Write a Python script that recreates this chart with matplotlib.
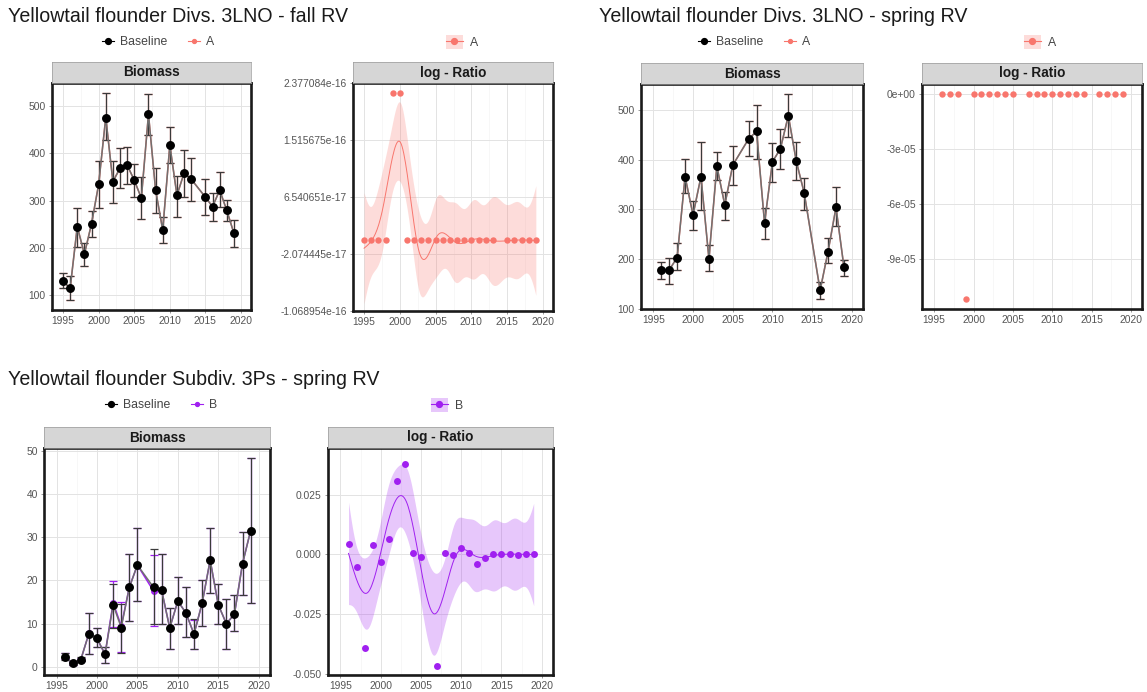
import numpy as np
import matplotlib
matplotlib.use("Agg")
import matplotlib.pyplot as plt
from matplotlib.patches import Patch
from matplotlib.lines import Line2D

plt.rcParams['font.family'] = ['Liberation Sans', 'DejaVu Sans']

# ---------------- data ----------------
fall_years = [1995, 1996, 1997, 1998, 1999, 2000, 2001, 2002, 2003, 2004, 2005, 2006,
              2007, 2008, 2009, 2010, 2011, 2012, 2013, 2015, 2016, 2017, 2018, 2019]
fall_base = [130, 115, 245, 187, 251, 334, 475, 340, 368, 375, 343, 305,
             482, 322, 238, 417, 311, 358, 345, 307, 287, 322, 279, 231]
fall_lo = [115, 91, 203, 161, 224, 285, 428, 294, 326, 335, 308, 261,
           438, 273, 210, 379, 266, 307, 300, 270, 256, 287, 256, 203]
fall_hi = [147, 140, 285, 210, 277, 384, 526, 384, 410, 412, 376, 350,
           524, 368, 266, 454, 352, 407, 389, 345, 315, 361, 301, 259]
fall_A = [130, 115, 245, 187, 251, 334, 475, 340, 368, 375, 343, 305,
          482, 322, 238, 417, 311, 358, 345, 307, 287, 322, 279, 231]
fall_lr = [0, 0, 0, 0, 2.220446e-16, 2.220446e-16, 0, 0, 0, 0, 0, 0,
           0, 0, 0, 0, 0, 0, 0, 0, 0, 0, 0, 0]
fall_lr_ticks = [2.377084e-16, 1.515675e-16, 6.540651e-17, -2.074445e-17, -1.068954e-16]
fall_lr_labels = ["2.377084e-16", "1.515675e-16", "6.540651e-17", "-2.074445e-17", "-1.068954e-16"]

spring_years = [1996, 1997, 1998, 1999, 2000, 2001, 2002, 2003, 2004, 2005,
                2007, 2008, 2009, 2010, 2011, 2012, 2013, 2014,
                2016, 2017, 2018, 2019]
spring_base = [178, 178, 203, 366, 289, 366, 201, 387, 309, 389,
               442, 457, 273, 396, 422, 489, 397, 333,
               137, 215, 304, 184]
spring_lo = [160, 149, 178, 333, 259, 299, 175, 359, 279, 349,
             407, 402, 241, 356, 382, 446, 359, 299,
             120, 193, 266, 165]
spring_hi = [194, 203, 232, 402, 316, 435, 228, 416, 336, 427,
             479, 511, 303, 434, 462, 532, 436, 364,
             153, 242, 345, 199]
spring_A = [178, 178, 203, 366, 289, 366, 201, 387, 309, 389,
            442, 457, 273, 396, 422, 489, 397, 333,
            137, 215, 304, 184]
spring_lr = [0, 0, 0, -1.12e-4, 0, 0, 0, 0, 0, 0,
             0, 0, 0, 0, 0, 0, 0, 0,
             0, 0, 0, 0]
spring_lr_ticks = [0, -3e-5, -6e-5, -9e-5]
spring_lr_labels = ["0e+00", "-3e-05", "-6e-05", "-9e-05"]

ps_years = [1996, 1997, 1998, 1999, 2000, 2001, 2002, 2003, 2004, 2005,
            2007, 2008, 2009, 2010, 2011, 2012, 2013, 2014, 2015, 2016, 2017, 2018, 2019]
ps_base = [2.3, 0.8, 1.7, 7.7, 6.6, 2.9, 14.4, 9.1, 18.4, 23.6,
           18.4, 17.7, 9.0, 15.2, 12.5, 7.6, 14.7, 24.7, 14.4, 10.0, 12.2, 23.9, 31.5]
ps_lo = [1.7, 0.5, 1.3, 2.9, 4.5, 0.8, 8.9, 3.2, 10.6, 15.3,
         10.0, 9.9, 4.1, 10.0, 6.8, 4.1, 9.5, 17.2, 9.9, 4.1, 8.2, 16.6, 14.7]
ps_hi = [3.2, 1.1, 2.2, 12.4, 9.0, 4.6, 19.2, 14.5, 26.1, 32.1,
         27.2, 26.1, 13.7, 20.7, 18.4, 11.0, 20.1, 32.1, 19.1, 15.7, 16.6, 31.3, 48.3]
ps_B = [2.31, 0.80, 1.63, 7.73, 6.58, 2.92, 14.85, 9.45, 18.41, 23.57,
        17.56, 17.71, 9.0, 15.24, 12.51, 7.57, 14.68, 24.71, 14.40, 10.0, 12.2, 23.9, 31.5]
ps_lr = [0.0045, -0.0054, -0.0394, 0.0041, -0.0031, 0.0066, 0.0306, 0.0379, 0.0006, -0.0011,
         -0.0469, 0.0004, -0.0001, 0.0027, 0.0007, -0.0039, -0.0015, 0.0003, 0.0003, 0.0003,
         -0.0004, 0.0, 0.0]
ps_lr_ticks = [0.025, 0.0, -0.025, -0.05]
ps_lr_labels = ["0.025", "0.000", "-0.025", "-0.050"]

year_ticks = [1995, 2000, 2005, 2010, 2015, 2020]

# ---------------- styles ----------------
W, H = 1147, 692
RED = "#F8766D"
PURPLE = "#A020F0"
TICKC = "#555555"
XLIM = (1993.45, 2021.4)

fig = plt.figure(figsize=(W / 100, H / 100), dpi=100)


def rect(l, t, r, b):
    return [l / W, 1 - b / H, (r - l) / W, (b - t) / H]


def make_panel(l, t, r, b, label):
    ax = fig.add_axes(rect(l, t, r, b))
    ax.set_facecolor("white")
    for s in ax.spines.values():
        s.set_linewidth(1.9)
        s.set_color("#1a1a1a")
    ax.grid(True, which="major", color="#E3E3E3", lw=0.7)
    ax.grid(True, which="minor", color="#F2F2F2", lw=0.4)
    ax.set_axisbelow(True)
    ax.tick_params(axis="both", labelsize=7.4, colors="#888888", labelcolor=TICKC,
                   length=2.5, width=0.6, pad=2)
    ax.set_xlim(*XLIM)
    ax.set_xticks(year_ticks)
    ax.set_xticks([1997.5, 2002.5, 2007.5, 2012.5, 2017.5], minor=True)
    ax.tick_params(which="minor", length=0)
    st = fig.add_axes(rect(l, t - 21, r, t))
    st.set_facecolor("#D6D6D6")
    st.set_xticks([])
    st.set_yticks([])
    for s in st.spines.values():
        s.set_linewidth(0.5)
        s.set_color("#9a9a9a")
    st.text(0.5, 0.5, label, ha="center", va="center", fontsize=9.8,
            fontweight="bold", color="#1a1a1a", transform=st.transAxes)
    return ax


def gg_expand(lo, hi, frac=0.05):
    d = (hi - lo) * frac
    return lo - d, hi + d


def ns_design(x, knots):
    K = len(knots)

    def p3(v):
        return np.where(v > 0, v, 0.0) ** 3

    def d(k):
        return (p3(x - knots[k]) - p3(x - knots[-1])) / (knots[-1] - knots[k])

    cols = [np.ones_like(x), x]
    for k in range(K - 2):
        cols.append(d(k) - d(K - 2))
    return np.column_stack(cols)


def gam_smooth(xs, ys, k=10, lam_mult=1.0, grid_n=200):
    x = (np.asarray(xs, float) - 2007.0) / 10.0
    y = np.asarray(ys, float)
    scale = np.std(y) if np.std(y) > 0 else 1.0
    yc = y / scale
    knots = np.quantile(np.unique(x), np.linspace(0, 1, k))
    X = ns_design(x, knots)
    g = np.linspace(x.min(), x.max(), 2000)
    G = ns_design(g, knots)
    h = g[1] - g[0]
    D2 = (G[2:] - 2 * G[1:-1] + G[:-2]) / h ** 2
    S = D2.T @ D2 * h
    n = len(x)

    def fit_lam(lam):
        M = X.T @ X + lam * S
        Minv = np.linalg.pinv(M)
        A = X @ Minv @ X.T
        edf = np.trace(A)
        rss = np.sum((yc - A @ yc) ** 2)
        return Minv, edf, rss

    best = None
    for lam in np.logspace(-8, 3, 120):
        Minv, edf, rss = fit_lam(lam)
        gcv = n * rss / (n - edf) ** 2
        if best is None or gcv < best[0]:
            best = (gcv, lam)
    lam = best[1] * lam_mult
    Minv, edf, rss = fit_lam(lam)
    beta = Minv @ X.T @ yc
    sig2 = rss / (n - edf)
    xp = np.linspace(x.min(), x.max(), grid_n)
    Xp = ns_design(xp, knots)
    fp = Xp @ beta
    se = np.sqrt(np.einsum("ij,jk,ik->i", Xp, Minv * sig2, Xp))
    q = 2.06
    return xp * 10 + 2007.0, fp * scale, (fp - q * se) * scale, (fp + q * se) * scale


def biomass_panel(ax, yrs, base, lo, hi, alt, alt_lo, alt_hi, altcol):
    yrs = np.asarray(yrs)
    base = np.asarray(base, float)
    lo = np.asarray(lo, float)
    hi = np.asarray(hi, float)
    alt = np.asarray(alt, float)
    # alternative series drawn first
    ax.errorbar(yrs, alt, yerr=[alt - alt_lo, alt_hi - alt], fmt="none",
                ecolor=altcol, elinewidth=0.9, capsize=2.8, capthick=0.9, zorder=2)
    ax.plot(yrs, alt, color=altcol, lw=1.1, zorder=2)
    ax.plot(yrs, alt, "o", color=altcol, ms=4.0, zorder=2)
    # baseline
    ax.errorbar(yrs, base, yerr=[base - lo, hi - base], fmt="none",
                ecolor="#3a3a3a", elinewidth=0.9, capsize=2.8, capthick=0.9, zorder=3)
    ax.plot(yrs, base, color="#707070", lw=1.1, zorder=3)
    ax.plot(yrs, base, "o", color="black", ms=5.4, zorder=4)
    ax.set_ylim(*gg_expand(min(lo.min(), np.min(alt_lo)), max(hi.max(), np.max(alt_hi))))


def ratio_panel(ax, yrs, lr, col, smooth=True, lam_mult=1.0, ylim=None, ticks=None,
                labels=None, ms=4.6):
    if smooth:
        xs, f, l, u = gam_smooth(yrs, lr, lam_mult=lam_mult)
        ax.fill_between(xs, l, u, color=col, alpha=0.25, lw=0, zorder=2)
        ax.plot(xs, f, color=col, lw=0.7, zorder=3)
    ax.plot(yrs, lr, "o", color=col, ms=ms, zorder=4, mec="none")
    if ylim is not None:
        ax.set_ylim(*ylim)
    else:
        ax.set_ylim(*gg_expand(min(lr), max(lr)))
    ax.set_yticks(ticks)
    ax.set_yticklabels(labels)


def legends(cx_bio, cx_rat, y, altlab, altcol):
    yy = 1 - y / H
    h1 = [Line2D([], [], color="black", marker="o", ms=4.2, lw=0.8),
          Line2D([], [], color=altcol, marker="o", ms=2.8, lw=0.8)]
    fig.legend(h1, ["Baseline", altlab], loc="center", bbox_to_anchor=(cx_bio / W, yy),
               ncol=2, frameon=False, fontsize=8.8, handlelength=1.0, handletextpad=0.5,
               columnspacing=1.7, borderpad=0, labelcolor="#444444")
    h2 = [(Patch(facecolor=altcol, alpha=0.25, edgecolor="none"),
           Line2D([], [], color=altcol, marker="o", ms=4.2, lw=0.8))]
    fig.legend(h2, [altlab], loc="center", bbox_to_anchor=(cx_rat / W, yy),
               ncol=1, frameon=False, fontsize=8.8, handlelength=1.4, handleheight=1.4,
               handletextpad=0.6, borderpad=0, labelcolor="#444444")


# ---------------- titles ----------------
TFS = 14.1
fig.text(8 / W, 1 - 16 / H, "Yellowtail flounder Divs. 3LNO - fall RV", fontsize=TFS,
         va="center", ha="left", color="#1a1a1a")
fig.text(599 / W, 1 - 16 / H, "Yellowtail flounder Divs. 3LNO - spring RV", fontsize=TFS,
         va="center", ha="left", color="#1a1a1a")
fig.text(8 / W, 1 - 379 / H, "Yellowtail flounder Subdiv. 3Ps - spring RV", fontsize=TFS,
         va="center", ha="left", color="#1a1a1a")

# ---------------- fall ----------------
ax = make_panel(52, 83, 251, 310, "Biomass")
fa = np.asarray(fall_A, float)
biomass_panel(ax, fall_years, fall_base, fall_lo, fall_hi, fa,
              fa * np.asarray(fall_lo) / np.asarray(fall_base),
              fa * np.asarray(fall_hi) / np.asarray(fall_base), RED)
ax.set_yticks([100, 200, 300, 400, 500])

ax = make_panel(353, 83, 553, 311, "log - Ratio")
ratio_panel(ax, fall_years, fall_lr, RED, smooth=True, lam_mult=1.0,
            ylim=(fall_lr_ticks[-1], fall_lr_ticks[0]), ticks=fall_lr_ticks,
            labels=fall_lr_labels, ms=4.6)
legends(158, 462, 42, "A", RED)

# ---------------- spring ----------------
ax = make_panel(641, 84, 863, 309, "Biomass")
sa = np.asarray(spring_A, float)
biomass_panel(ax, spring_years, spring_base, spring_lo, spring_hi, sa,
              sa * np.asarray(spring_lo) / np.asarray(spring_base),
              sa * np.asarray(spring_hi) / np.asarray(spring_base), RED)
ax.set_yticks([100, 200, 300, 400, 500])

ax = make_panel(922, 84, 1142, 309, "log - Ratio")
ratio_panel(ax, spring_years, spring_lr, RED, smooth=False,
            ticks=spring_lr_ticks, labels=spring_lr_labels, ms=4.6)
legends(754, 1040, 42, "A", RED)

# ---------------- 3Ps ----------------
ax = make_panel(44, 448, 270, 675, "Biomass")
pb = np.asarray(ps_B, float)
biomass_panel(ax, ps_years, ps_base, ps_lo, ps_hi, pb,
              pb * np.asarray(ps_lo) / np.asarray(ps_base),
              pb * np.asarray(ps_hi) / np.asarray(ps_base), PURPLE)
ax.set_yticks([0, 10, 20, 30, 40, 50])

ax = make_panel(328, 448, 553, 675, "log - Ratio")
ratio_panel(ax, ps_years, ps_lr, PURPLE, smooth=True, lam_mult=2.0, ylim=(-0.0505, 0.0445),
            ticks=ps_lr_ticks, labels=ps_lr_labels, ms=5.0)
legends(161, 447, 405, "B", PURPLE)

fig.savefig("out.png", dpi=100, facecolor="white")
